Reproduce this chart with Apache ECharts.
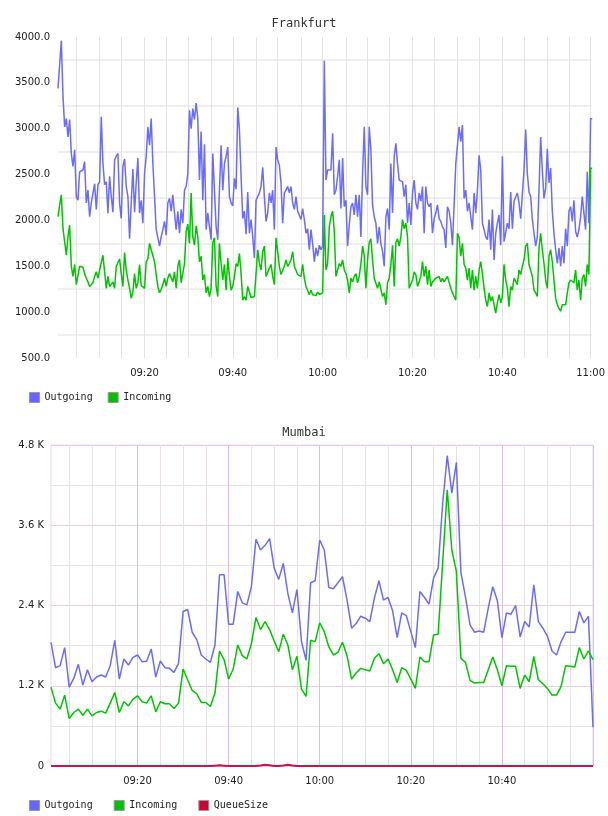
<!DOCTYPE html>
<html>
<head>
<meta charset="utf-8">
<title>Frankfurt / Mumbai</title>
<script src="https://cdn.jsdelivr.net/npm/echarts@6.0.0/dist/echarts.min.js"></script>
<style>
  html, body { margin: 0; padding: 0; background: #fff; }
  #main { width: 608px; height: 816px; }
</style>
</head>
<body>
<div id="main"></div>
<script>
// Frankfurt: samples every ~22 s, 09:00:48 -> 11:00:13
var fraStartSec = 9 * 3600 + 48;
var fraStepSec = 22.32;
var fraOut = [
  3440,3420,3960,3350,3020,3110,2910,3100,2730,2590,
  2770,2260,2220,2530,2550,2550,2640,2190,2330,2040,
  2190,2170,2400,2120,2390,2420,3130,2620,2390,2420,
  2080,2480,2260,2090,2660,2700,2730,2190,2020,2590,
  2670,2370,2260,1800,2190,2560,2090,2410,2680,2080,
  2220,1970,2510,2700,3020,2820,3110,2620,2260,1900,
  1900,1720,1820,1900,1990,1840,2190,2240,2100,2280,
  2080,1900,2100,1860,2120,1970,2330,2370,2510,3200,
  3000,3220,3100,3280,3110,2440,2970,2220,2830,1900,
  2080,1930,1790,2730,2330,1930,1790,2330,2820,2330,
  2620,2700,2800,2260,2190,2160,2460,2340,3230,2990,
  2480,2020,2100,1850,2310,1860,2010,1820,1590,2220,
  2210,2300,2370,2580,2260,1990,2080,2300,2190,2330,
  1900,2800,2660,2600,2410,1970,2300,2330,2370,2300,
  2370,2190,2120,2260,2100,2120,2010,2130,2010,1860,
  1910,1680,1900,1750,1550,1700,1610,1730,1680,1720,
  3740,2440,2550,2550,2550,2950,2280,2330,2480,2660,
  2130,2680,2150,2220,1720,1950,2150,2190,2060,2280,
  2040,2280,1820,2510,3020,2370,2280,3020,2770,2170,
  2040,1970,1750,1930,1750,1660,1500,2040,2130,1900,
  2620,2080,2700,2840,2620,2440,2460,2420,2260,2390,
  1970,2190,1950,2300,2440,2190,2120,2300,2210,2370,
  1860,2370,2190,2150,2190,1860,2020,2080,2170,2020,
  1990,1930,1900,1700,2150,2100,1970,1730,1750,2620,
  2640,3020,2860,3040,2240,2330,2100,2190,2040,1900,
  2300,2080,2330,2710,2550,1970,1900,1820,1790,2010,
  1680,2120,1570,1860,1970,2060,1730,2700,1770,1750,
  1970,1910,2310,1910,2210,2190,2300,2190,2020,2020,
  2550,2990,2510,2310,2260,2010,1860,1720,1820,2330,
  2910,2550,2240,2350,2780,2410,2570,2100,1860,1680,
  1530,1700,1500,1720,1530,1910,1720,2100,2150,1990,
  2220,1880,1820,1900,2040,2260,2260,1900,2530,1970,
  3110,3110
];
var fraIn = [
  2040,2170,2280,1910,1930,1620,1820,1950,1500,1390,
  1520,1300,1300,1500,1480,1490,1420,1370,1330,1280,
  1270,1320,1390,1440,1370,1460,1480,1620,1610,1260,
  1390,1280,1280,1330,1260,1500,1520,1580,1420,1280,
  1650,1460,1350,1260,1150,1220,1420,1260,1320,1520,
  1290,1280,1260,1550,1580,1750,1680,1690,1550,1410,
  1280,1210,1250,1300,1370,1280,1370,1420,1410,1330,
  1440,1260,1500,1570,1320,1330,1530,1880,1960,1750,
  2300,1820,1730,1940,1820,1550,1610,1350,1410,1210,
  1280,1170,1260,1760,1810,1280,1170,1750,1530,1350,
  1520,1240,1590,1390,1240,1280,1390,1530,1500,1640,
  1420,1130,1170,1130,1280,1300,1160,1170,1170,1170,
  1680,1530,1460,1660,1720,1390,1370,1480,1520,1390,
  1300,1810,1660,1500,1410,1390,1500,1570,1500,1530,
  1570,1660,1500,1500,1410,1410,1390,1520,1370,1280,
  1260,1190,1240,1190,1210,1180,1220,1190,1190,1210,
  2060,1460,1530,1930,2040,2100,1880,1390,1380,1530,
  1500,1570,1460,1420,1350,1210,1370,1330,1390,1420,
  1320,1390,1530,1720,1620,1260,1570,1760,1800,1570,
  1370,1350,1260,1330,1320,1170,1210,1080,1320,1370,
  1520,1730,1280,1760,1800,1720,1820,2010,1910,1970,
  1820,1260,1240,1350,1440,1410,1280,1330,1390,1550,
  1390,1500,1300,1460,1280,1330,1320,1370,1350,1390,
  1330,1370,1330,1320,1390,1370,1260,1210,1170,1130,
  1860,1810,1610,1750,1520,1480,1350,1480,1260,1460,
  1240,1390,1260,1460,1550,1420,1260,1130,1060,1210,
  1120,1170,1080,990,1100,1190,1100,1170,1520,1350,
  1260,1060,1280,1240,1370,1370,1300,1460,1410,1500,
  1570,1720,1750,1520,1520,1390,1240,1210,1170,1700,
  1860,1680,1530,1350,1260,1610,1680,1550,1570,1150,
  1080,1040,1010,1080,1060,1080,1210,1320,1350,1330,
  1320,1460,1240,1350,1130,1370,1410,1280,1520,1410,
  2570,2570
];

// Mumbai: one sample per minute, 09:01:06 -> 11:00:06
var mumStartSec = 9 * 3600 + 66;
var mumStepSec = 60;
var mumOut = [
  1850,1470,1500,1770,1180,1310,1520,1210,1440,1260,
  1330,1360,1330,1500,1880,1300,1600,1510,1625,1660,
  1560,1565,1750,1330,1570,1470,1460,1400,1535,2310,
  2340,2000,1890,1660,1600,1550,1810,2860,2860,2120,
  2120,2610,2440,2410,2680,3390,3230,3300,3400,2960,
  2790,3030,2580,2290,2640,1860,1580,2740,2770,3380,
  3230,2670,2650,2740,2830,2480,2060,2130,2240,2210,
  2160,2510,2770,2480,2520,2320,1920,2290,2250,2010,
  1770,2610,2520,2420,2810,2960,3930,4640,4080,4540,
  2890,2530,2110,2000,2020,2000,2360,2680,2470,1920,
  2290,2270,2400,1930,2160,2080,2710,2160,2060,1940,
  1720,1660,1860,2000,2000,2000,2310,2140,2240,580
];
var mumIn = [
  1180,940,850,1060,710,800,850,760,850,750,
  800,820,790,940,1100,800,960,900,1000,1050,
  960,940,1050,810,960,930,930,860,940,1450,
  1290,1130,1080,950,950,890,1090,1720,1590,1300,
  1450,1810,1650,1600,1830,2220,2040,2160,2040,1870,
  1710,1970,1810,1440,1640,1150,1040,1880,1860,2140,
  2010,1780,1660,1700,1850,1650,1300,1390,1460,1440,
  1420,1610,1680,1530,1600,1440,1250,1470,1430,1300,
  1160,1630,1560,1560,1960,1970,3050,4130,3230,2910,
  1610,1550,1280,1240,1250,1250,1440,1630,1440,1200,
  1500,1490,1490,1160,1360,1260,1640,1290,1230,1160,
  1060,1060,1190,1500,1490,1480,1770,1600,1720,1590
];
var mumQueue = [
  0,0,0,0,0,0,0,0,0,0,
  0,0,0,0,0,0,0,0,0,0,
  0,0,0,0,0,0,0,0,0,0,
  0,0,0,0,0,0,5,10,5,0,
  0,0,0,0,0,0,8,18,10,0,
  0,8,18,8,0,0,0,0,0,0,
  0,0,0,0,0,0,0,0,0,0,
  0,0,0,0,0,0,0,0,0,0,
  0,0,0,0,0,0,0,0,0,0,
  0,0,0,0,0,0,0,0,0,0,
  0,0,0,0,0,0,0,0,0,0,
  0,0,0,0,0,0,0,0,0,0
];

var pad = function (n) { return (n < 10 ? '0' : '') + n; };
var hms = function (s) {
  s = Math.round(s);
  return pad(Math.floor(s / 3600)) + ':' + pad(Math.floor(s / 60) % 60) + ':' + pad(s % 60);
};

var fraTimes = [], mumTimes = [];
for (var i = 0; i < fraOut.length; i++) fraTimes.push(hms(fraStartSec + i * fraStepSec));
for (var j = 0; j < mumOut.length; j++) mumTimes.push(hms(mumStartSec + j * mumStepSec));

// the sample closest to a 5 min mark carries that mark (-1 otherwise)
var markAt = function (start, step, idx) {
  var s = start + idx * step;
  var m = Math.round(s / 300) * 300;
  return (s - m >= -step / 2 && s - m < step / 2) ? m : -1;
};
var markText = function (m) { return pad(Math.floor(m / 3600)) + ':' + pad(Math.floor(m / 60) % 60); };

var fontMono = 'DejaVu Sans Mono';
var fontSans = 'DejaVu Sans';

var xAxisFor = function (grid, times, start, step, splitColor, skipLastLabel) {
  return {
    gridIndex: grid,
    type: 'category',
    data: times,
    boundaryGap: false,
    axisLine: { show: false },
    axisTick: { show: false },
    axisLabel: {
      interval: function (idx) {
        if (skipLastLabel && idx === times.length - 1) return false;
        var m = markAt(start, step, idx);
        return m >= 0 && m % 1200 === 0;
      },
      formatter: function (val, idx) { return markText(markAt(start, step, idx)); },
      margin: 10,
      fontFamily: fontSans,
      fontSize: 10,
      color: '#222'
    },
    splitLine: {
      show: true,
      interval: function (idx) { return markAt(start, step, idx) >= 0; },
      lineStyle: { color: splitColor, width: 1 }
    }
  };
};

var mainContainer = document.getElementById('main');
var chart = echarts.init(mainContainer);

var option = {
  backgroundColor: '#fff',
  animation: false,
  title: [
    { text: 'Frankfurt', left: 'center', top: 13,
      textStyle: { fontFamily: fontMono, fontSize: 12, fontWeight: 'normal', color: '#333' } },
    { text: 'Mumbai', left: 'center', top: 422,
      textStyle: { fontFamily: fontMono, fontSize: 12, fontWeight: 'normal', color: '#333' } }
  ],
  legend: [
    { data: ['Outgoing', 'Incoming'], left: 24, top: 387, icon: 'rect',
      itemWidth: 10, itemHeight: 10, itemGap: 15,
      itemStyle: { borderColor: '#999', borderWidth: 1 },
      textStyle: { fontFamily: fontMono, fontSize: 10, color: '#222' } },
    { data: ['Outgoing', 'Incoming', 'QueueSize'], left: 24, top: 795, icon: 'rect',
      itemWidth: 10, itemHeight: 10, itemGap: 21,
      itemStyle: { borderColor: '#999', borderWidth: 1 },
      textStyle: { fontFamily: fontMono, fontSize: 10, color: '#222' } }
  ],
  grid: [
    { left: 58, right: 15, top: 37, height: 321 },
    { left: 51, right: 15, top: 445, height: 321, show: true, borderColor: '#ead6ea', borderWidth: 1 }
  ],
  xAxis: [
    xAxisFor(0, fraTimes, fraStartSec, fraStepSec, '#e4e4e4', false),
    xAxisFor(1, mumTimes, mumStartSec, mumStepSec, ['#e8e2e8', '#e8e2e8', '#e8e2e8', '#dcc0dc'], true)
  ],
  yAxis: [
    {
      gridIndex: 0, type: 'value', min: 500, max: 4000, interval: 250,
      axisLine: { show: false }, axisTick: { show: false },
      axisLabel: {
        formatter: function (v) { return v % 500 === 0 ? v.toFixed(1) : ''; },
        margin: 8, fontFamily: fontSans, fontSize: 10, color: '#222'
      },
      splitLine: { lineStyle: { color: ['rgba(0,0,0,0)', '#efefef'], width: 2 } }
    },
    {
      gridIndex: 1, type: 'value', min: 0, max: 4800, interval: 600,
      axisLine: { show: false }, axisTick: { show: false },
      axisLabel: {
        formatter: function (v) {
          if (v % 1200 !== 0) return '';
          return v === 0 ? '0' : (v / 1000).toFixed(1) + ' K';
        },
        margin: 7, fontFamily: fontSans, fontSize: 10, color: '#222'
      },
      splitLine: { lineStyle: { color: ['#e6cfe6', '#e8e2e8'], width: 1 } }
    }
  ],
  series: [
    { name: 'Outgoing', type: 'line', xAxisIndex: 0, yAxisIndex: 0, data: fraOut,
      symbol: 'none', lineStyle: { color: '#6b6bff', width: 1.5 }, itemStyle: { color: '#6666ff' } },
    { name: 'Incoming', type: 'line', xAxisIndex: 0, yAxisIndex: 0, data: fraIn,
      symbol: 'none', lineStyle: { color: '#00c400', width: 1.5 }, itemStyle: { color: '#00c000' } },
    { name: 'Outgoing', type: 'line', xAxisIndex: 1, yAxisIndex: 1, data: mumOut,
      symbol: 'none', lineStyle: { color: '#6b6bff', width: 1.5 }, itemStyle: { color: '#6666ff' } },
    { name: 'Incoming', type: 'line', xAxisIndex: 1, yAxisIndex: 1, data: mumIn,
      symbol: 'none', lineStyle: { color: '#00c400', width: 1.5 }, itemStyle: { color: '#00c000' } },
    { name: 'QueueSize', type: 'line', xAxisIndex: 1, yAxisIndex: 1, data: mumQueue, clip: false,
      symbol: 'none', lineStyle: { color: '#d0104a', width: 2 }, itemStyle: { color: '#cc0033' } }
  ]
};
chart.setOption(option);
</script>
</body>
</html>
